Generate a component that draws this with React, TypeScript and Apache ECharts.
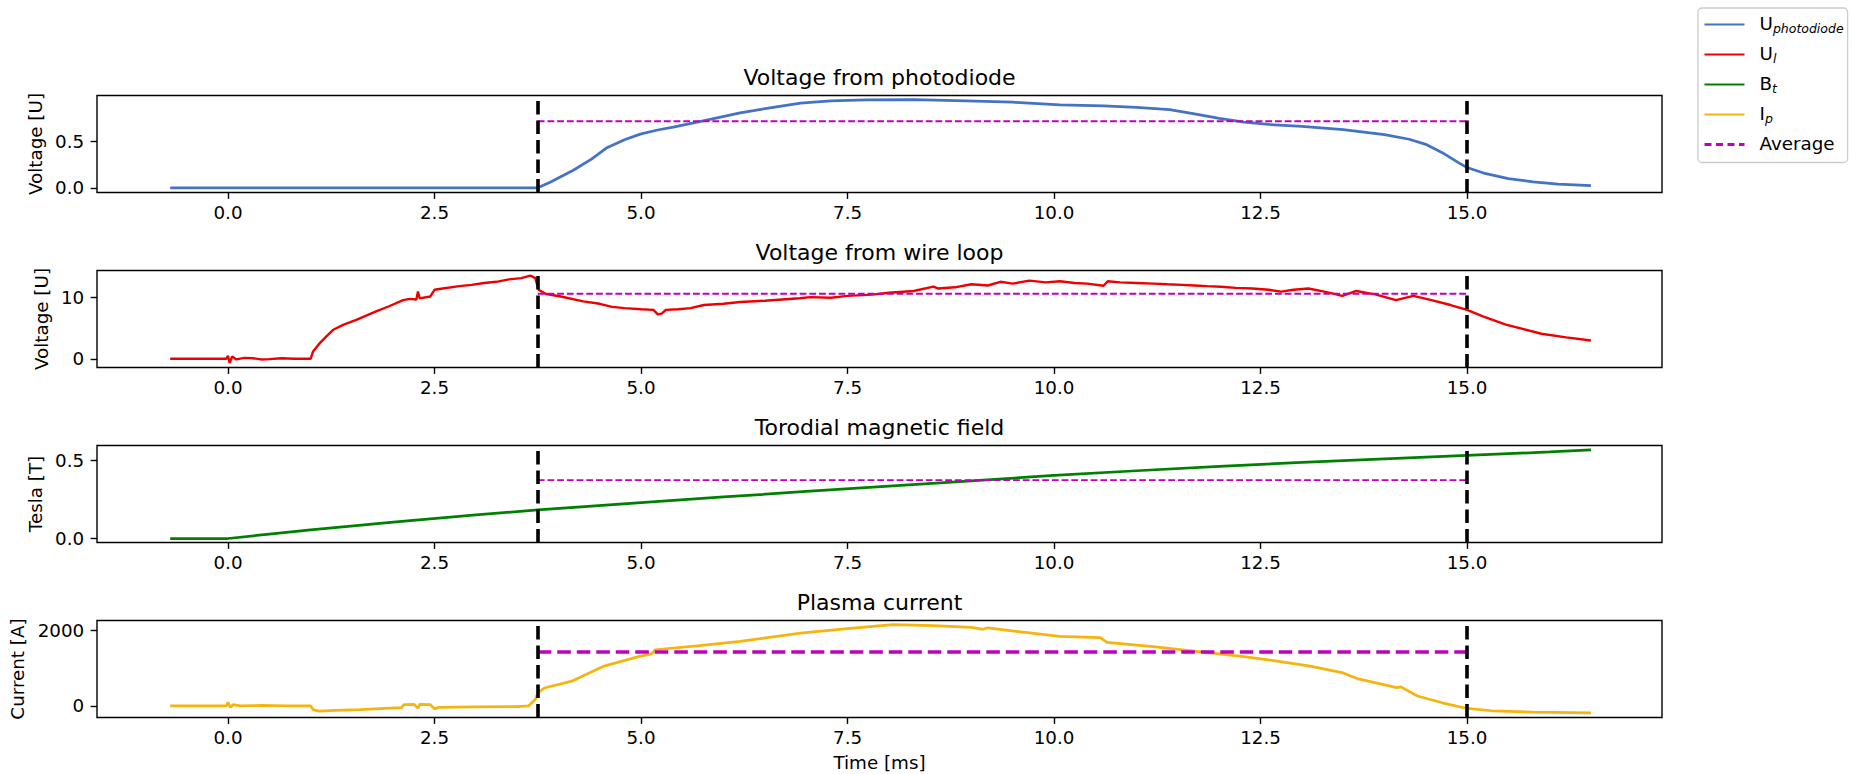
import React, { useEffect, useRef } from "react";
import * as echarts from "echarts";

const FONT = "DejaVu Sans";

// ---- axes / labels ----
const xTicks = [0, 2.5, 5, 7.5, 10, 12.5, 15];
const xRange = [-1.586, 17.36];
const markTimes = [3.75, 15.0];
const panelTitles = [
  "Voltage from photodiode",
  "Voltage from wire loop",
  "Torodial magnetic field",
  "Plasma current",
];
const yAxisNames = ["Voltage [U]", "Voltage [U]", "Tesla [T]", "Current [A]"];
const yTicks = [
  [0, 0.5],
  [0, 10],
  [0, 0.5],
  [0, 2000],
];
const yRanges = [
  [-0.05, 0.9975],
  [-1.42, 14.45],
  [-0.0255, 0.593],
  [-308, 2252],
];
const averages = [0.72, 10.65, 0.372, 1421];
const seriesNames = ["U_photodiode", "U_l", "B_t", "I_p"];
const colors = ["#4472c4", "#ee0000", "#008000", "#f6b40e"];

// ---- data ----
const photoT = [-0.7, 3.75, 3.9, 4.18, 4.4, 4.58, 4.8, 4.99, 5.2, 5.39, 5.71, 6.2, 6.6, 6.93, 7.3, 7.73, 8.3, 8.94, 9.5, 10.07, 10.6, 11.0, 11.4, 11.7, 12.0, 12.3, 12.6, 13.0, 13.5, 14.0, 14.3, 14.5, 14.7, 14.9, 15.0, 15.2, 15.5, 15.8, 16.1, 16.5];
const photoV = [0, 0, 0.06, 0.19, 0.31, 0.43, 0.52, 0.58, 0.625, 0.655, 0.715, 0.81, 0.87, 0.915, 0.94, 0.95, 0.952, 0.94, 0.925, 0.895, 0.885, 0.87, 0.845, 0.8, 0.75, 0.71, 0.685, 0.665, 0.63, 0.575, 0.525, 0.47, 0.38, 0.27, 0.22, 0.16, 0.1, 0.065, 0.04, 0.025];

const loopT = [-0.7, -0.3, -0.02, 0.0, 0.02, 0.05, 0.1, 0.2, 0.3, 0.4, 0.5, 0.65, 0.8, 1.0, 1.03, 1.1, 1.2, 1.28, 1.4, 1.56, 1.8, 1.95, 2.12, 2.2, 2.28, 2.3, 2.32, 2.45, 2.5, 2.6, 2.8, 2.95, 3.1, 3.25, 3.4, 3.55, 3.66, 3.72, 3.76, 3.85, 4.03, 4.3, 4.5, 4.65, 4.8, 5.0, 5.15, 5.2, 5.25, 5.3, 5.45, 5.6, 5.76, 6.0, 6.2, 6.5, 6.92, 7.05, 7.3, 7.5, 7.8, 8.0, 8.3, 8.54, 8.6, 8.8, 9.0, 9.2, 9.35, 9.5, 9.7, 9.9, 10.07, 10.25, 10.4, 10.6, 10.65, 10.8, 11.0, 11.2, 11.37, 11.55, 11.7, 11.85, 12.02, 12.2, 12.4, 12.6, 12.75, 12.9, 13.08, 13.3, 13.49, 13.66, 13.9, 14.14, 14.35, 14.57, 14.8, 15.0, 15.2, 15.47, 15.9, 16.2, 16.5];
const loopV = [0, 0, 0, 0.5, -0.7, 0.4, -0.1, 0.15, 0.1, -0.1, -0.05, 0.1, 0, 0, 1.2, 2.4, 3.8, 4.8, 5.6, 6.4, 7.8, 8.6, 9.6, 9.8, 9.7, 11.0, 9.9, 10.2, 11.3, 11.5, 11.9, 12.1, 12.4, 12.6, 13.0, 13.2, 13.6, 13.2, 11.3, 10.6, 10.2, 9.4, 9.0, 8.5, 8.3, 8.1, 8.0, 7.3, 7.4, 8.0, 8.1, 8.3, 8.8, 9.0, 9.3, 9.5, 9.9, 10.1, 10.0, 10.3, 10.5, 10.8, 11.1, 11.8, 11.5, 11.7, 12.2, 12.0, 12.6, 12.3, 12.8, 12.5, 12.7, 12.4, 12.3, 11.95, 12.7, 12.5, 12.4, 12.3, 12.2, 12.1, 12.0, 11.9, 11.8, 11.6, 11.5, 11.3, 11.0, 11.3, 11.5, 10.9, 10.3, 11.1, 10.5, 9.6, 10.3, 9.6, 8.8, 8.0, 6.9, 5.6, 4.1, 3.5, 3.0];

const fieldT = [-0.7, 0, 0.5, 1, 2, 3, 3.75, 5, 6, 7, 8, 9, 10, 11, 12, 13, 14, 15, 16, 16.5];
const fieldV = [0, 0, 0.028, 0.055, 0.105, 0.15, 0.182, 0.228, 0.265, 0.3, 0.334, 0.368, 0.402, 0.432, 0.46, 0.485, 0.508, 0.53, 0.552, 0.565];

const currentT = [-0.7, -0.02, 0.0, 0.03, 0.06, 0.15, 0.4, 0.7, 1.0, 1.03, 1.1, 1.3, 1.6, 1.9, 2.1, 2.13, 2.25, 2.3, 2.32, 2.45, 2.5, 2.55, 3.0, 3.5, 3.64, 3.72, 3.75, 3.83, 4.16, 4.54, 4.97, 5.13, 5.17, 5.71, 6.2, 6.93, 7.5, 8.05, 8.54, 9.0, 9.14, 9.2, 9.6, 10.07, 10.56, 10.64, 11.2, 11.83, 12.3, 12.72, 13.1, 13.5, 13.67, 14.15, 14.2, 14.4, 14.7, 15.0, 15.3, 15.8, 16.5];
const currentV = [0, 0, 90, -40, 30, 0, 10, 0, 0, -100, -140, -120, -100, -70, -50, 30, 40, -60, 40, 30, -80, -40, -30, -20, 0, 170, 340, 470, 650, 1040, 1300, 1370, 1480, 1590, 1700, 1920, 2040, 2140, 2115, 2070, 2020, 2060, 1950, 1832, 1797, 1674, 1560, 1411, 1300, 1174, 1050, 868, 720, 480, 500, 260, 80, -70, -130, -165, -185];

const seriesT = [photoT, loopT, fieldT, currentT];
const seriesV = [photoV, loopV, fieldV, currentV];

// ---- layout ----
const GRID_LEFT = 97;
const GRID_WIDTH = 1565;
const GRID_TOPS = [95.5, 270.5, 445.5, 620.5];
const GRID_HEIGHT = 97;
const yNameGaps = [49, 45, 49, 69];

const legendText: Record<string, string> = {
  U_photodiode: "{a|U}{s|photodiode}",
  U_l: "{a|U}{s|l}",
  B_t: "{a|B}{s|t}",
  I_p: "{a|I}{s|p}",
  Average: "{a|Average}",
};

export default function App() {
  const ref = useRef<HTMLDivElement>(null);

  useEffect(() => {
    if (!ref.current) return;
    const chart = echarts.init(ref.current, null, { renderer: "svg" });

    const grid = GRID_TOPS.map((top) => ({
      left: GRID_LEFT,
      top,
      width: GRID_WIDTH,
      height: GRID_HEIGHT,
      show: true,
      borderColor: "#000",
      borderWidth: 1.4,
      backgroundColor: "transparent",
    }));

    const xAxis = GRID_TOPS.map((_, i) => ({
      type: "value",
      gridIndex: i,
      min: xRange[0],
      max: xRange[1],
      axisLine: { show: false, onZero: false },
      splitLine: { show: false },
      axisTick: {
        show: true,
        length: 6.4,
        customValues: xTicks,
        lineStyle: { color: "#000", width: 1.4 },
      },
      axisLabel: {
        show: true,
        customValues: xTicks,
        margin: 11,
        fontFamily: FONT,
        fontSize: 18.3,
        color: "#000",
        formatter: (v: number) => v.toFixed(1),
      },
      name: i === 3 ? "Time [ms]" : "",
      nameLocation: "middle",
      nameGap: 36,
      nameTextStyle: { fontFamily: FONT, fontSize: 18.3, color: "#000" },
    }));

    const yAxis = GRID_TOPS.map((_, i) => ({
      type: "value",
      gridIndex: i,
      min: yRanges[i][0],
      max: yRanges[i][1],
      axisLine: { show: false, onZero: false },
      splitLine: { show: false },
      axisTick: {
        show: true,
        length: 6.4,
        customValues: yTicks[i],
        lineStyle: { color: "#000", width: 1.4 },
      },
      axisLabel: {
        show: true,
        customValues: yTicks[i],
        margin: 12.8,
        fontFamily: FONT,
        fontSize: 18.3,
        color: "#000",
        formatter: (v: number) => (i === 0 || i === 2 ? v.toFixed(1) : String(Math.round(v))),
      },
      name: yAxisNames[i],
      nameLocation: "middle",
      nameGap: yNameGaps[i],
      nameTextStyle: { fontFamily: FONT, fontSize: 18.3, color: "#000" },
    }));

    const mainSeries = seriesNames.map((name, i) => ({
      type: "line",
      name,
      xAxisIndex: i,
      yAxisIndex: i,
      data: seriesT[i].map((t, k) => [t, seriesV[i][k]]),
      symbol: "none",
      showSymbol: false,
      color: colors[i],
      lineStyle: { color: colors[i], width: i === 1 ? 2.4 : 2.75 },
      silent: true,
      z: 2,
      markLine: {
        silent: true,
        symbol: ["none", "none"],
        label: { show: false },
        lineStyle: { color: "#000", type: [13.6, 5.9], width: 3.6 },
        emphasis: { disabled: true },
        data: markTimes.map((t) => ({ xAxis: t })),
        z: 4,
      },
    }));

    const avgSeries = averages.map((avg, i) => ({
      type: "line",
      name: "Average",
      xAxisIndex: i,
      yAxisIndex: i,
      data: [
        [markTimes[0], avg],
        [markTimes[1], avg],
      ],
      symbol: "none",
      showSymbol: false,
      color: "#bf00bf",
      lineStyle:
        i === 3
          ? { color: "#bf00bf", width: 3.6, type: [13.6, 5.9] }
          : { color: "#bf00bf", width: 1.9, type: [6.8, 2.9] },
      silent: true,
      z: 3,
    }));

    const titles = panelTitles.map((t, i) => ({
      type: "text",
      x: GRID_LEFT + GRID_WIDTH / 2,
      y: GRID_TOPS[i] - 18.5,
      silent: true,
      style: {
        text: t,
        fontFamily: FONT,
        fontSize: 22,
        fill: "#000",
        textAlign: "center",
        textVerticalAlign: "middle",
      },
    }));

    chart.setOption({
      animation: false,
      grid,
      xAxis,
      yAxis,
      legend: {
        orient: "vertical",
        left: 1698,
        top: 8,
        padding: [6, 4, 10, 5],
        itemGap: 9,
        itemWidth: 40,
        itemHeight: 20,
        selectedMode: false,
        borderColor: "#cccccc",
        borderWidth: 1.3,
        borderRadius: 4,
        backgroundColor: "#fff",
        itemStyle: { opacity: 0, borderWidth: 0 },
        data: [
          ...seriesNames,
          { name: "Average", lineStyle: { type: [7, 4.5], width: 3, color: "#bf00bf" } },
        ],
        formatter: (name: string) => legendText[name] || name,
        textStyle: {
          fontFamily: FONT,
          fontSize: 18.3,
          color: "#000",
          rich: {
            a: {
              fontFamily: FONT,
              fontSize: 18.3,
              color: "#000",
              padding: [0, 0, 3, 10],
              verticalAlign: "bottom",
            },
            s: {
              fontFamily: FONT,
              fontSize: 12.5,
              fontStyle: "italic",
              color: "#000",
              verticalAlign: "bottom",
            },
          },
        },
      },
      graphic: titles,
      series: [...mainSeries, ...avgSeries],
    });

    return () => chart.dispose();
  }, []);

  return (
    <div
      ref={ref}
      style={{ position: "absolute", left: 0, top: 0, width: 1852, height: 774 }}
    />
  );
}
